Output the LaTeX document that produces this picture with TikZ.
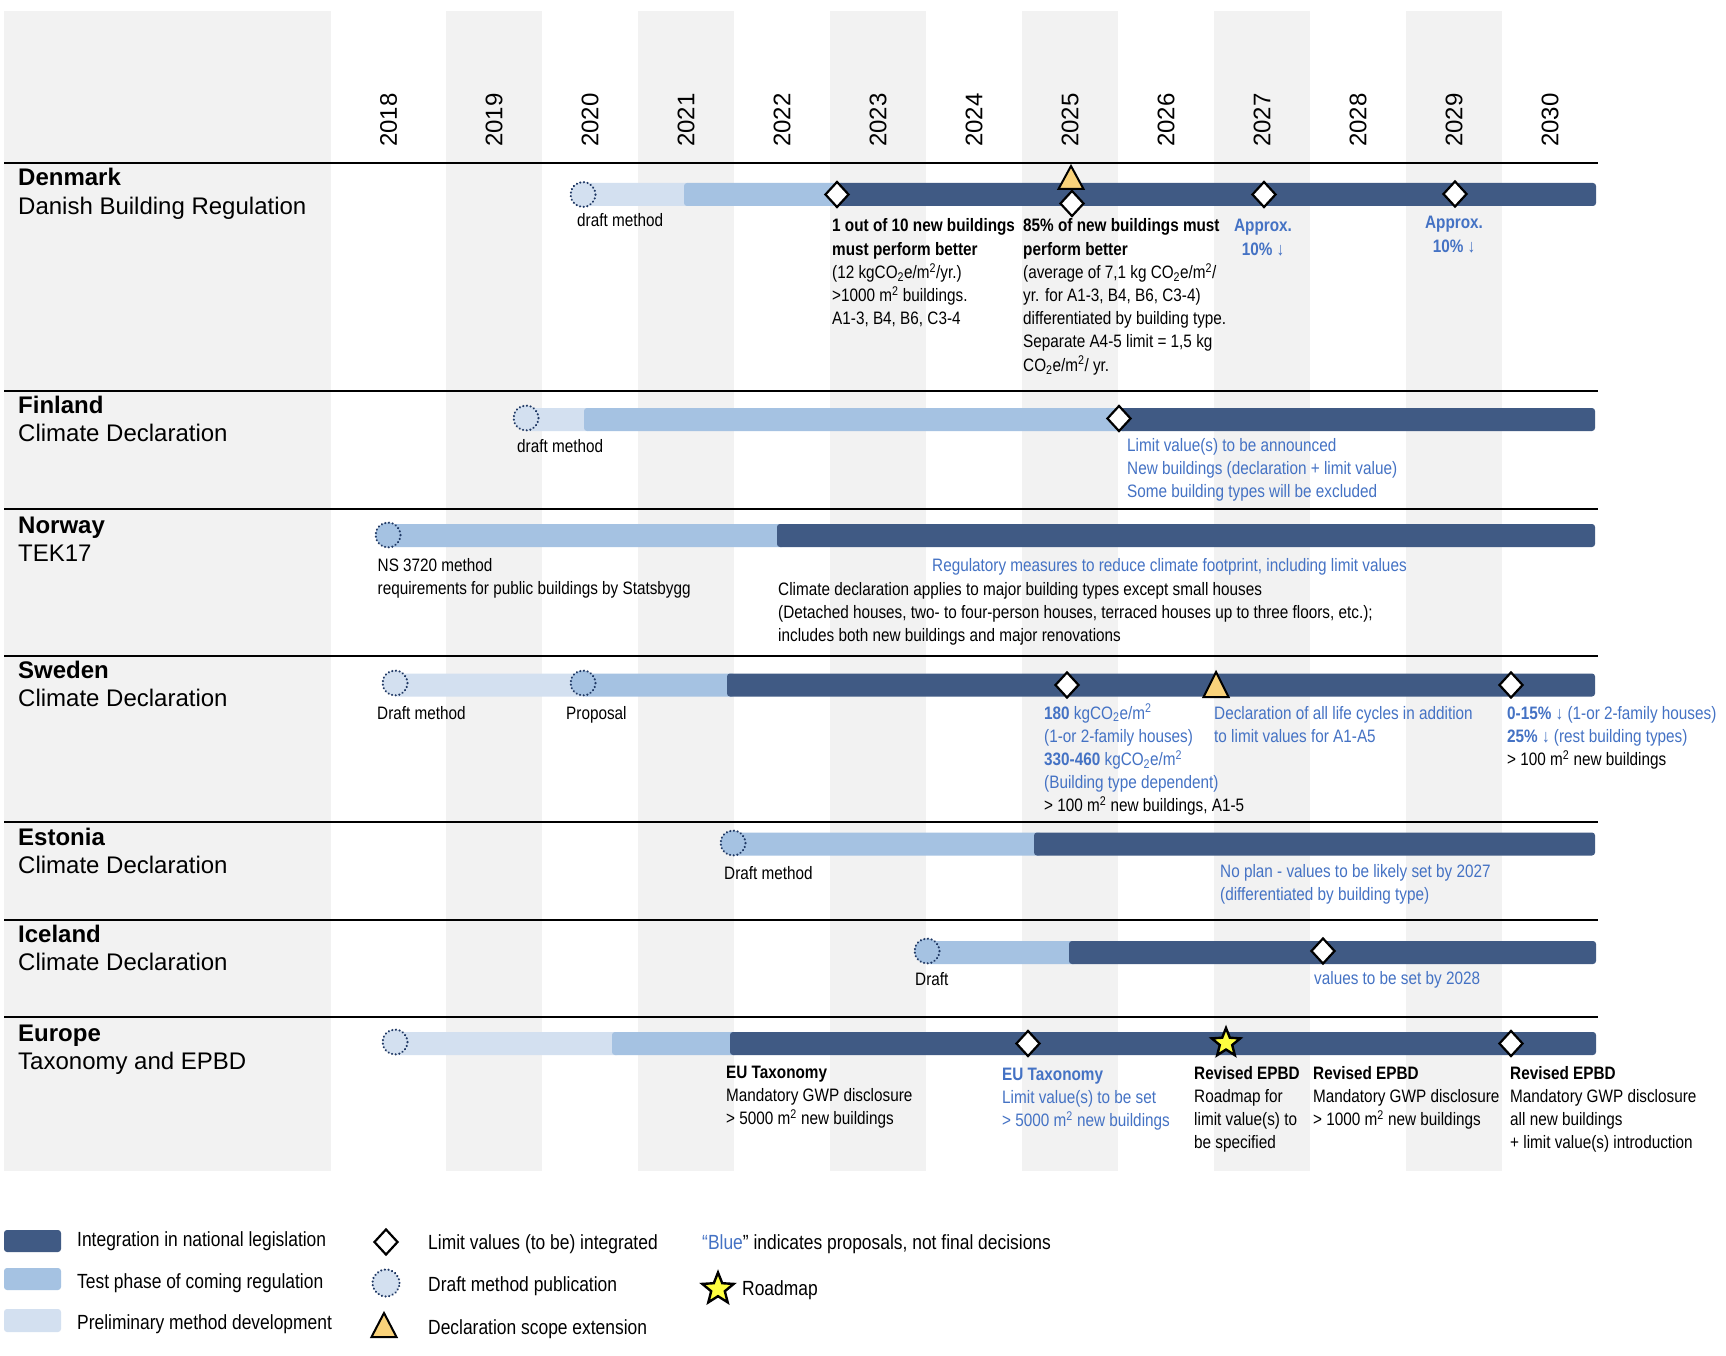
\documentclass[tikz,border=0pt]{standalone}
\usepackage{fontspec}
\setmainfont{Liberation Sans}
\newfontfamily\nar[FakeStretch=0.85]{Liberation Sans}
\usetikzlibrary{shapes.geometric}
\definecolor{darkbar}{HTML}{405A84}
\definecolor{testbar}{HTML}{A5C2E2}
\definecolor{prelbar}{HTML}{D3E0F0}
\definecolor{colgray}{HTML}{F2F2F2}
\definecolor{txtblue}{HTML}{4472C4}
\definecolor{navyd}{HTML}{1F3864}
\definecolor{triorange}{HTML}{F9D27A}
\definecolor{staryellow}{HTML}{FFFF40}
\newcommand\blk[1]{\begin{tabular}[t]{@{}l@{}}#1\end{tabular}}
\newcommand\cblk[1]{\begin{tabular}[t]{@{}c@{}}#1\end{tabular}}
\newcommand\cotwo{CO\textsubscript{2}e/m\textsuperscript{2}}
\newcommand\sqm{m\textsuperscript{2}}
\tikzset{
  hdr/.style={anchor=base west, inner sep=0pt, font=\fontsize{24}{28.3}\selectfont},
  ann/.style={anchor=base west, inner sep=0pt, font=\nar\fontsize{18}{23.2}\selectfont},
  lgd/.style={anchor=base west, inner sep=0pt, font=\nar\fontsize{20.5}{24}\selectfont},
  yr/.style={rotate=90, anchor=west, inner sep=0pt, font=\fontsize{24}{24}\selectfont},
  rc/.style={rounded corners=3pt},
  sepline/.style={line width=2.6pt, black},
  dmd/.style={diamond, draw=black, line width=2.2pt, fill=white, minimum width=24pt, minimum height=26pt, inner sep=0pt},
  dcirc/.style={circle, draw=navyd, line width=2.3pt, dash pattern=on 0.1pt off 3.6pt, line cap=round, minimum size=25pt, inner sep=0pt},
  tri/.style={draw=black, fill=triorange, line width=2pt, line join=miter},
  starm/.style={star, star points=5, star point ratio=2.3, draw=black, line width=2.4pt, fill=staryellow, minimum size=30pt, inner sep=0pt}
}
\begin{document}
\begin{tikzpicture}[x=1pt,y=-1pt]
\useasboundingbox[fill=white] (0,0) rectangle (1726,1356);
% background columns
\fill[colgray] (4,11) rectangle (331,1171);
\foreach \j in {0,...,5} \fill[colgray] ({446+2*\j*96},11) rectangle ({446+(2*\j+1)*96},1171);
% years
\node[yr] (y2018) at (388.5,147) {2018};
\foreach \yy [count=\i from 0] in {2019,...,2030} \node[yr] (y\yy) at ({494+\i*96},147) {\yy};
% row separators
\foreach \ly in {163,391,509,656,822,920,1017} \draw[sepline] (4,\ly) -- (1598,\ly);

% headings
\node[hdr] (hDK) at (18,186) {\blk{\textbf{Denmark}\\Danish Building Regulation}};
\node[hdr] (hFI) at (18,413) {\blk{\textbf{Finland}\\Climate Declaration}};
\node[hdr] (hNO) at (18,533) {\blk{\textbf{Norway}\\TEK17}};
\node[hdr] (hSE) at (18,678) {\blk{\textbf{Sweden}\\Climate Declaration}};
\node[hdr] (hEE) at (18,845) {\blk{\textbf{Estonia}\\Climate Declaration}};
\node[hdr] (hIS) at (18,942) {\blk{\textbf{Iceland}\\Climate Declaration}};
\node[hdr] (hEU) at (18,1041) {\blk{\textbf{Europe}\\Taxonomy and EPBD}};

% ---- Denmark
\fill[prelbar,rc] (583,183) rectangle (690,206);
\fill[testbar,rc] (684,183) rectangle (845,206);
\fill[darkbar,rc] (837,183) rectangle (1596,206);
\node[dcirc,fill=prelbar] (dkc) at (583,194.5) {};
\node[dmd] (dkd1) at (837,194.5) {};
\draw[tri] (1058.5,189) -- (1083.5,189) -- (1071,166) -- cycle;
\node[dmd] (dkd2) at (1072,203.5) {};
\node[dmd] (dkd3) at (1264,194.5) {};
\node[dmd] (dkd4) at (1455,194) {};
\node[ann] (dkt0) at (577,227) {draft method};
\node[ann] (dkt1) at (832,232) {\blk{\textbf{1 out of 10 new buildings}\\\textbf{must perform better}\\(12 kg\cotwo/yr.)\\>1000 \sqm{} buildings.\\A1-3, B4, B6, C3-4}};
\node[ann] (dkt2) at (1023,232) {\blk{\textbf{85\% of new buildings must}\\\textbf{perform better}\\(average of 7,1 kg \cotwo/\\yr. for A1-3, B4, B6, C3-4)\\differentiated by building type.\\Separate A4-5 limit = 1,5 kg\\\cotwo/ yr.}};
\node[ann,anchor=base,text=txtblue] (dkt3) at (1263,232) {\cblk{\textbf{Approx.}\\\textbf{10\% ↓}}};
\node[ann,anchor=base,text=txtblue] (dkt4) at (1454,229) {\cblk{\textbf{Approx.}\\\textbf{10\% ↓}}};

% ---- Finland
\fill[prelbar,rc] (526,408) rectangle (590,431);
\fill[testbar,rc] (584,408) rectangle (1127,431);
\fill[darkbar,rc] (1119,408) rectangle (1595,431);
\node[dcirc,fill=prelbar] (fic) at (526,418) {};
\node[dmd] (fid) at (1119,418.5) {};
\node[ann] (fit0) at (517,452) {draft method};
\node[ann,text=txtblue] (fit1) at (1127,451) {\blk{Limit value(s) to be announced\\New buildings (declaration + limit value)\\Some building types will be excluded}};

% ---- Norway
\fill[testbar,rc] (388,524) rectangle (785,547);
\fill[darkbar,rc] (777,524) rectangle (1595,547);
\node[dcirc,fill=testbar] (noc) at (388,535) {};
\node[ann] (not0) at (377.5,571) {\blk{NS 3720 method\\requirements for public buildings by Statsbygg}};
\node[ann,text=txtblue] (not1) at (932,571) {Regulatory measures to reduce climate footprint, including limit values};
\node[ann] (not2) at (778,595) {\blk{Climate declaration applies to major building types except small houses\\(Detached houses, two- to four-person houses, terraced houses up to three floors, etc.);\\includes both new buildings and major renovations}};

% ---- Sweden
\fill[prelbar,rc] (395,673.5) rectangle (590,696.5);
\fill[testbar,rc] (583,673.5) rectangle (735,696.5);
\fill[darkbar,rc] (727,673.5) rectangle (1595,696.5);
\node[dcirc,fill=prelbar] (sec1) at (395,683) {};
\node[dcirc,fill=testbar] (sec2) at (583,683) {};
\node[dmd] (sed1) at (1067,685) {};
\draw[tri] (1203.5,697) -- (1228.5,697) -- (1216,672) -- cycle;
\node[dmd] (sed2) at (1511,685) {};
\node[ann] (set0) at (377,719) {Draft method};
\node[ann] (set1) at (566,719) {Proposal};
\node[ann] (set2) at (1044,719) {\blk{\color{txtblue}\textbf{180} kg\cotwo\\\color{txtblue}(1-or 2-family houses)\\\color{txtblue}\textbf{330-460} kg\cotwo\\\color{txtblue}(Building type dependent)\\> 100 \sqm{} new buildings, A1-5}};
\node[ann,text=txtblue] (set3) at (1214,719) {\blk{Declaration of all life cycles in addition\\to limit values for A1-A5}};
\node[ann] (set4) at (1507,719) {\blk{\color{txtblue}\textbf{0-15\% ↓} (1-or 2-family houses)\\\color{txtblue}\textbf{25\% ↓} (rest building types)\\> 100 \sqm{} new buildings}};

% ---- Estonia
\fill[testbar,rc] (733,832.5) rectangle (1042,855.5);
\fill[darkbar,rc] (1034,832.5) rectangle (1595,855.5);
\node[dcirc,fill=testbar] (esc) at (733,843) {};
\node[ann] (est0) at (724,879) {Draft method};
\node[ann,text=txtblue] (est1) at (1220,877) {\blk{No plan - values to be likely set by 2027\\(differentiated by building type)}};

% ---- Iceland
\fill[testbar,rc] (927,941) rectangle (1077,964);
\fill[darkbar,rc] (1069,941) rectangle (1596,964);
\node[dcirc,fill=testbar] (icc) at (927,951) {};
\node[dmd] (icd) at (1323,951) {};
\node[ann] (ict0) at (915,985) {Draft};
\node[ann,text=txtblue] (ict1) at (1314,984) {values to be set by 2028};

% ---- Europe
\fill[prelbar,rc] (395,1032) rectangle (620,1055);
\fill[testbar,rc] (612,1032) rectangle (738,1055);
\fill[darkbar,rc] (730,1032) rectangle (1596,1055);
\node[dcirc,fill=prelbar] (euc) at (395,1042) {};
\node[dmd] (eud1) at (1028,1043.5) {};
\node[starm] (eus) at (1226,1043) {};
\node[dmd] (eud2) at (1511,1043.5) {};
\node[ann] (eut1) at (726,1078) {\blk{\textbf{EU Taxonomy}\\Mandatory GWP disclosure\\> 5000 \sqm{} new buildings}};
\node[ann,text=txtblue] (eut2) at (1002,1080) {\blk{\textbf{EU Taxonomy}\\Limit value(s) to be set\\> 5000 \sqm{} new buildings}};
\node[ann] (eut3) at (1194,1079) {\blk{\textbf{Revised EPBD}\\Roadmap for\\limit value(s) to\\be specified}};
\node[ann] (eut4) at (1313,1079) {\blk{\textbf{Revised EPBD}\\Mandatory GWP disclosure\\> 1000 \sqm{} new buildings}};
\node[ann] (eut5) at (1510,1079) {\blk{\textbf{Revised EPBD}\\Mandatory GWP disclosure\\all new buildings\\+ limit value(s) introduction}};

% ---- Legend
\fill[darkbar,rc] (4,1230) rectangle (61,1252);
\node[lgd] (l1) at (77,1246) {Integration in national legislation};
\fill[testbar,rc] (4,1268) rectangle (61,1290);
\node[lgd] (l2) at (77,1288) {Test phase of coming regulation};
\fill[prelbar,rc] (4,1309) rectangle (61,1332);
\node[lgd] (l3) at (77,1329) {Preliminary method development};
\node[dmd] (ld) at (386,1242) {};
\node[lgd] (l4) at (428,1249) {Limit values (to be) integrated};
\node[dcirc,fill=prelbar,minimum width=26pt,minimum height=27pt] (lc) at (386,1283) {};
\node[lgd] (l5) at (428,1291) {Draft method publication};
\draw[tri] (371.5,1337) -- (396.5,1337) -- (384,1313) -- cycle;
\node[lgd] (l6) at (428,1334) {Declaration scope extension};
\node[lgd] (l7) at (702,1249) {{\color{txtblue}“Blue}” indicates proposals, not final decisions};
\node[starm,minimum size=33pt] (ls) at (718,1289) {};
\node[lgd] (l8) at (742,1295) {Roadmap};
\end{tikzpicture}
\end{document}
